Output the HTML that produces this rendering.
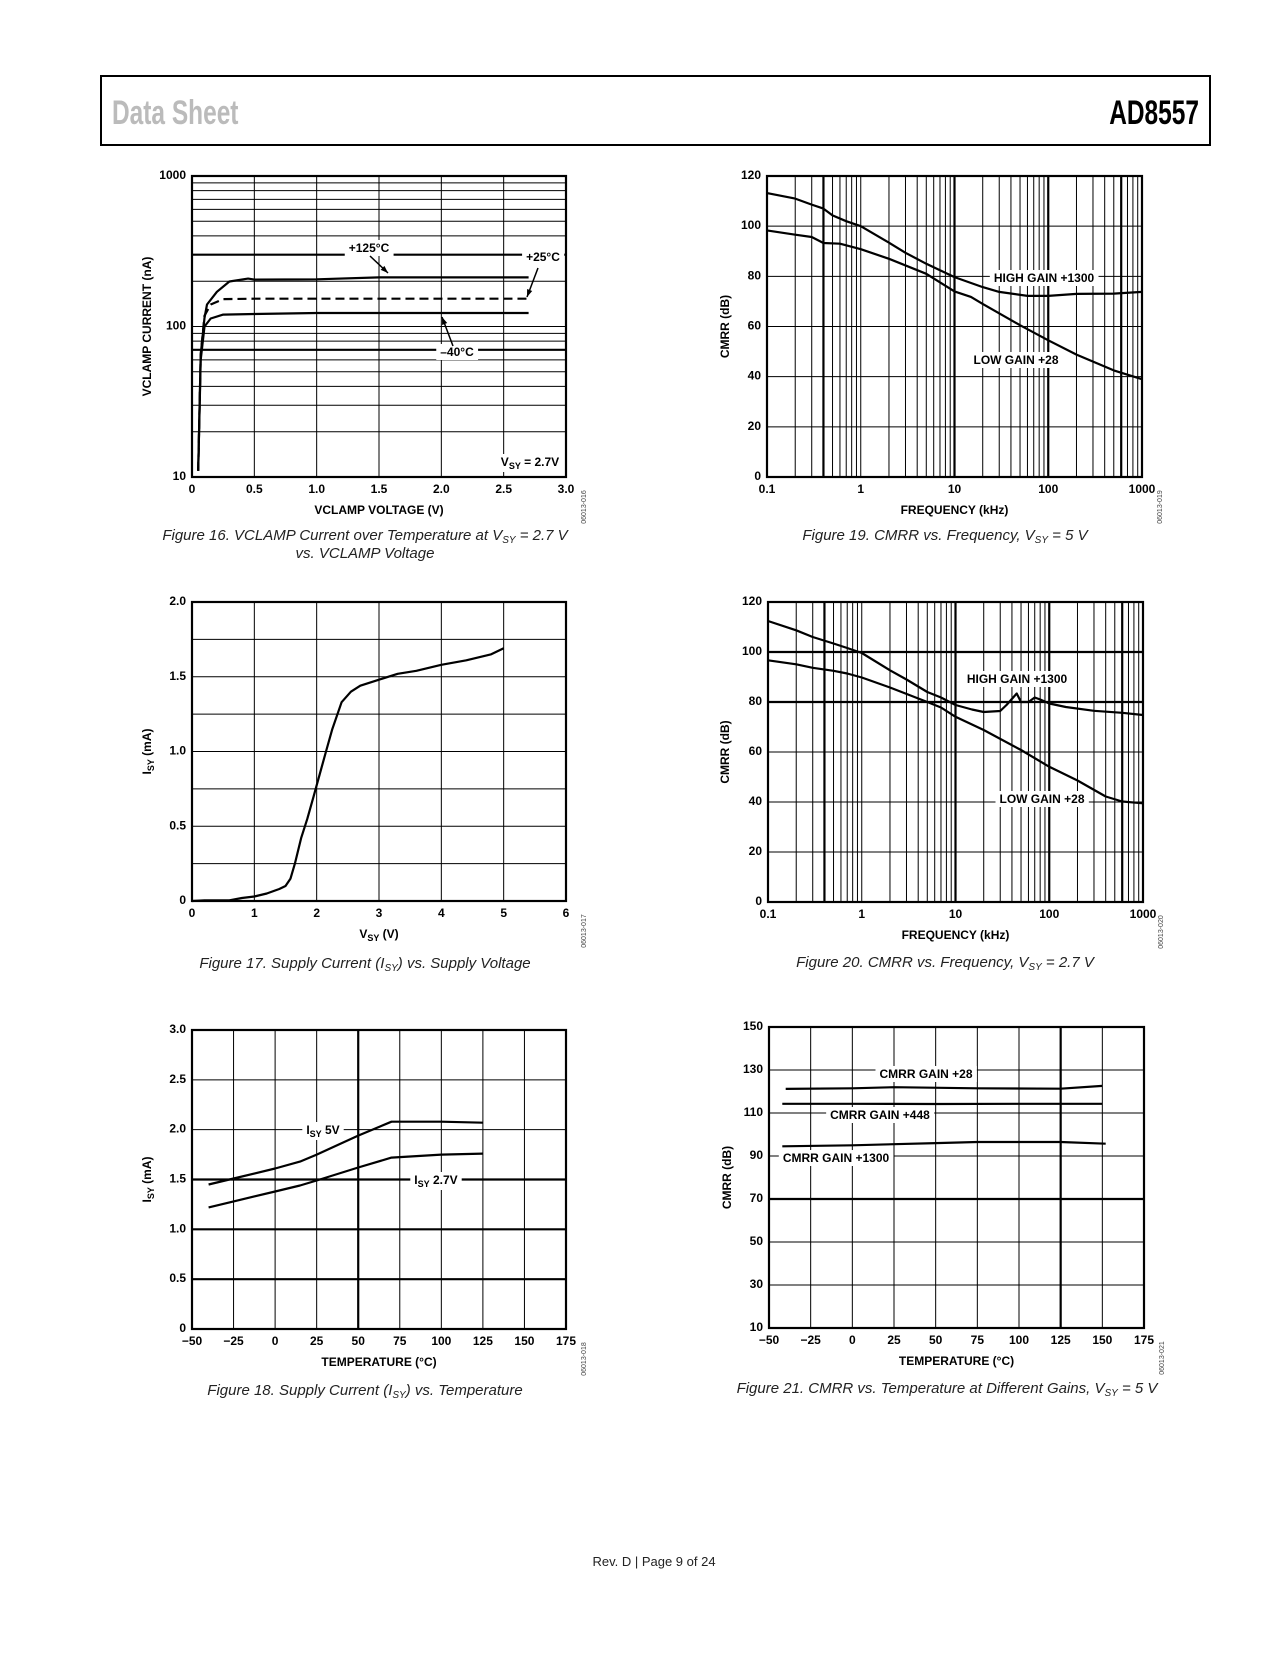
<!DOCTYPE html>
<html><head><meta charset="utf-8">
<style>
html,body{margin:0;padding:0;background:#fff;}
body{width:1275px;height:1650px;overflow:hidden;font-family:"Liberation Sans",sans-serif;}
svg text{font-family:"Liberation Sans",sans-serif;}
</style></head>
<body>
<svg id="page" width="1275" height="1650" viewBox="0 0 1275 1650" xmlns="http://www.w3.org/2000/svg">
<rect x="101" y="76" width="1109" height="69" fill="none" stroke="#000" stroke-width="2"/>
<text x="112" y="124" font-size="34" fill="#bbb" font-weight="bold" transform="translate(112 0) scale(0.72 1) translate(-112 0)">Data Sheet</text>
<text x="1199" y="124" font-size="34" fill="#000" font-weight="bold" text-anchor="end" transform="translate(1199 0) scale(0.72 1) translate(-1199 0)">AD8557</text>
<text x="654" y="1566" font-size="13" text-anchor="middle" fill="#222">Rev. D | Page 9 of 24</text>
<g id="charts"></g>
</svg>
<script>
// ---- Figure 16 data (VCLAMP current, nA vs V) ----
const f16_t125_x=[0.05,0.07,0.1,0.12,0.2,0.3,0.45,0.5,1.0,1.5,2.7];
const f16_t125_y=[11,65,114,140,170,199,208,205,206,212,212];
const f16_t25_x=[0.05,0.07,0.1,0.15,0.25,0.5,1.0,2.7];
const f16_t25_y=[11,65,118,140,152,153,153,153];
const f16_tm40_x=[0.05,0.07,0.1,0.15,0.25,0.5,1.0,2.7];
const f16_tm40_y=[11,60,100,113,120,121,123,123];
const f16_xticks=[0,0.5,1.0,1.5,2.0,2.5,3.0];
const f16_xtickLabels=["0","0.5","1.0","1.5","2.0","2.5","3.0"];
const f16_yticks=[10,100,1000];
const f16_ytickLabels=["10","100","1000"];
// ---- Figure 19 data (CMRR vs freq, 5V) ----
const f19_high_x=[0.1,0.2,0.3,0.4,0.5,0.7,1,2,3,5,10,20,30,60,100,200,500,1000];
const f19_high_y=[113.2,111,108.6,107,104.3,102,100,93.4,89.4,85,79.7,75.7,73.8,72.2,72.2,73,73.1,73.8];
const f19_low_x=[0.1,0.2,0.3,0.4,0.6,1,2,5,10,15,20,50,100,200,500,1000];
const f19_low_y=[98.3,96.6,95.7,93.3,93,90.8,87,81,74,71.8,69,60.5,54.5,48.8,42.5,39];
// ---- Figure 20 data (CMRR vs freq, 2.7V) ----
const f20_high_x=[0.1,0.2,0.3,0.5,0.7,1,2,3,5,7,10,15,20,30,35,45,50,60,70,80,100,150,300,600,1000];
const f20_high_y=[112.4,108.7,106,103.4,101.6,99.6,92.7,89,84,81.8,78.8,77,76,76.4,78.8,83.4,80,80,81.8,81,79.4,78,76.5,75.7,74.8];
const f20_low_x=[0.1,0.2,0.3,0.5,0.7,1,2,5,7,10,20,50,100,200,400,600,1000];
const f20_low_y=[96.7,95.1,93.7,92.5,91.4,89.8,85.8,80,77.8,74.1,68.8,60.8,54.1,48.6,42.2,40.2,39.5];
const freqTicks=[0.1,1,10,100,1000];
const freqTickLabels=["0.1","1","10","100","1000"];
const cmrrTicks=[0,20,40,60,80,100,120];
const cmrrTickLabels=["0","20","40","60","80","100","120"];
// ---- Figure 17 data (Isy vs Vsy) ----
const f17_x=[0,0.2,0.6,0.8,1.0,1.2,1.4,1.5,1.58,1.65,1.75,1.85,1.95,2.05,2.15,2.25,2.4,2.55,2.7,3.0,3.3,3.6,4.0,4.4,4.8,5.0];
const f17_y=[0,0.005,0.005,0.02,0.03,0.05,0.08,0.1,0.15,0.25,0.42,0.55,0.7,0.85,1.0,1.15,1.33,1.4,1.44,1.48,1.52,1.54,1.58,1.61,1.65,1.69];
const f17_xticks=[0,1,2,3,4,5,6];
const f17_yticks=[0,0.5,1.0,1.5,2.0];
const f17_ytickLabels=["0","0.5","1.0","1.5","2.0"];
// ---- Figure 18 data (Isy vs temperature) ----
const f18_temp=[-40,-25,0,15,25,50,70,100,125];
const f18_5v=[1.45,1.51,1.61,1.68,1.75,1.94,2.08,2.08,2.07];
const f18_27v=[1.22,1.28,1.38,1.44,1.49,1.62,1.72,1.75,1.76];
const tempTicks=[-50,-25,0,25,50,75,100,125,150,175];
const tempTickLabels=["\u221250","\u221225","0","25","50","75","100","125","150","175"];
const f18_yticks=[0,0.5,1.0,1.5,2.0,2.5,3.0];
const f18_ytickLabels=["0","0.5","1.0","1.5","2.0","2.5","3.0"];
// ---- Figure 21 data (CMRR vs temperature) ----
const f21_g28_x=[-40,0,25,75,125,150];
const f21_g28_y=[121.2,121.5,122,121.5,121.3,122.6];
const f21_g448_x=[-42,0,50,100,150];
const f21_g448_y=[114.3,114.3,114.2,114.3,114.3];
const f21_g1300_x=[-42,0,50,75,125,152];
const f21_g1300_y=[94.5,95,96,96.5,96.5,95.7];
const f21_yticks=[10,30,50,70,90,110,130,150];

const NS="http://www.w3.org/2000/svg";
const root=document.getElementById('charts');
function mk(tag,attrs,parent){const e=document.createElementNS(NS,tag);for(const k in attrs)e.setAttribute(k,attrs[k]);(parent||root).appendChild(e);return e;}
function logMinors(a,b){const r=[];for(let d=Math.log10(a);d<Math.log10(b);d++){for(let m=2;m<=9;m++)r.push(m*Math.pow(10,d));}return r;}

function makeChart(c){
  const g=mk('g',{});
  
  
  const L=v=>Math.log10(v);
  c.sx=v=>c.xlog? c.x0+(L(v)-L(c.xmin))/(L(c.xmax)-L(c.xmin))*(c.x1-c.x0) : c.x0+(v-c.xmin)/(c.xmax-c.xmin)*(c.x1-c.x0);
  c.sy=v=>c.ylog? c.y1-(L(v)-L(c.ymin))/(L(c.ymax)-L(c.ymin))*(c.y1-c.y0) : c.y1-(v-c.ymin)/(c.ymax-c.ymin)*(c.y1-c.y0);
  const grid=mk('g',{},g);
  
  
  (c.xgrid||[]).forEach(v=>{const x=c.sx(v);const ln=mk('line',{x1:x,x2:x,y1:c.y0,y2:c.y1,stroke:'#000','stroke-width':(c.xthick||[]).some(t=>Math.abs(t-v)<1e-9)?2.2:1},grid);});
  (c.ygrid||[]).forEach(v=>{const y=c.sy(v);const ln=mk('line',{x1:c.x0,x2:c.x1,y1:y,y2:y,stroke:'#000','stroke-width':(c.ythick||[]).some(t=>Math.abs(t-v)<1e-9)?2.2:1},grid);});
  const fr=mk('rect',{x:c.x0,y:c.y0,width:c.x1-c.x0,height:c.y1-c.y0,fill:'none',stroke:'#000','stroke-width':2.2},g);
  
  
  c.xticks.forEach((v,i)=>{const t=mk('text',{x:c.sx(v),y:c.y1+16,'font-size':12,'font-weight':'bold','text-anchor':'middle'},g);t.textContent=c.xlabels[i];});
  c.yticks.forEach((v,i)=>{const t=mk('text',{x:c.x0-6,y:c.sy(v)+3,'font-size':12,'font-weight':'bold','text-anchor':'end'},g);t.textContent=c.ylabels[i];});
  const xt=mk('text',{x:(c.x0+c.x1)/2,y:c.y1+37,'font-size':12,'font-weight':'bold','text-anchor':'middle'},g);
  
  
  xt.innerHTML=c.xtitle;
  const yc=(c.y0+c.y1)/2;
  const yt=mk('text',{x:c.ytx,y:yc,'font-size':12,'font-weight':'bold','text-anchor':'middle',transform:`rotate(-90 ${c.ytx} ${yc})`},g);
  
  
  yt.innerHTML=c.ytitle;
  const idc=(c.y1+30);
  const id=mk('text',{x:c.x1+20,y:idc,'font-size':7,fill:'#444','text-anchor':'middle',transform:`rotate(-90 ${c.x1+20} ${idc})`},g);
  
  
  id.textContent=c.figid;
  c.caption.forEach((ln,i)=>{const t=mk('text',{x:c.capx,y:c.capy+i*18,'font-size':15,'font-style':'italic','text-anchor':'middle',fill:'#222'},g);t.innerHTML=ln;});
  c.g=g;
  return c;
}
function series(c,xs,ys,name,dash){
  const d=xs.map((x,i)=>(i?'L':'M')+c.sx(x).toFixed(1)+','+c.sy(ys[i]).toFixed(1)).join('');
  const p=mk('path',{d:d,fill:'none',stroke:'#000','stroke-width':2.2,'stroke-linejoin':'round'},c.g);
  if(dash)p.setAttribute('stroke-dasharray',dash);
  
  
}
function label(c,x,y,html,name){
  const t=mk('text',{x:x,y:y,'font-size':12,'font-weight':'bold','text-anchor':'middle'},c.g);
  t.innerHTML=html;
  const b=t.getBBox();
  const r=mk('rect',{x:b.x-4,y:b.y-1,width:b.width+8,height:b.height+2,fill:'#fff'},c.g);
  
  
  c.g.appendChild(t);
  
  
}
function arrow(c,x1,y1,x2,y2,name){
  const a=mk('line',{x1:x1,y1:y1,x2:x2,y2:y2,stroke:'#000','stroke-width':1.5},c.g);
  
  
  const ang=Math.atan2(y2-y1,x2-x1),s=8;
  const pts=[[x2,y2],[x2-s*Math.cos(ang-0.35),y2-s*Math.sin(ang-0.35)],[x2-s*Math.cos(ang+0.35),y2-s*Math.sin(ang+0.35)]];
  const h=mk('polygon',{points:pts.map(p=>p.join(',')).join(' '),fill:'#000'},c.g);
  
  
}
const SUB='<tspan font-size="9" dy="3">SY</tspan><tspan dy="-3">';

// Figure 16
const c16=makeChart({name:'figure-16-chart',x0:192,x1:566,y0:176,y1:477,xmin:0,xmax:3,ymin:10,ymax:1000,ylog:true,
 xgrid:[0.5,1,1.5,2,2.5],ygrid:[100].concat(logMinors(10,1000)),ythick:[300,70],
 xticks:f16_xticks,xlabels:f16_xtickLabels,yticks:f16_yticks,ylabels:f16_ytickLabels,
 xtitle:'VCLAMP VOLTAGE (V)',ytitle:'VCLAMP CURRENT (nA)',ytx:151,figid:'06013-016',
 caption:['Figure 16. VCLAMP Current over Temperature at V<tspan font-size="10" dy="3">SY</tspan><tspan dy="-3"> = 2.7 V</tspan>','vs. VCLAMP Voltage'],capx:365,capy:540});
series(c16,f16_t125_x,f16_t125_y,'series-125c');
series(c16,f16_t25_x,f16_t25_y,'series-25c','9,5');
series(c16,f16_tm40_x,f16_tm40_y,'series-minus40c');
label(c16,369,252,'+125°C','label-125c');
label(c16,543,261,'+25°C','label-25c');
label(c16,457,356,'\u201340°C','label-minus40c');
label(c16,530,466,'V<tspan font-size="9" dy="3">SY</tspan><tspan dy="-3"> = 2.7V</tspan>','label-vsy');
arrow(c16,370,256,388,273,'arrow-125c');
arrow(c16,538,268,527,297,'arrow-25c');
arrow(c16,453,346,442,317,'arrow-minus40c');

// Figure 19
const c19=makeChart({name:'figure-19-chart',x0:767,x1:1142,y0:176,y1:477,xmin:0.1,xmax:1000,xlog:true,ymin:0,ymax:120,
 xgrid:[1,10,100].concat(logMinors(0.1,1000)),xthick:[0.4,10,100,600],ygrid:[20,40,60,80,100],
 xticks:freqTicks,xlabels:freqTickLabels,yticks:cmrrTicks,ylabels:cmrrTickLabels,
 xtitle:'FREQUENCY (kHz)',ytitle:'CMRR (dB)',ytx:729,figid:'06013-019',
 caption:['Figure 19. CMRR vs. Frequency, V<tspan font-size="10" dy="3">SY</tspan><tspan dy="-3"> = 5 V</tspan>'],capx:945,capy:540});
series(c19,f19_high_x,f19_high_y,'series-high-gain');
series(c19,f19_low_x,f19_low_y,'series-low-gain');
label(c19,1044,282,'HIGH GAIN +1300','label-high-gain');
label(c19,1016,364,'LOW GAIN +28','label-low-gain');

// Figure 17
const c17=makeChart({name:'figure-17-chart',x0:192,x1:566,y0:602,y1:901,xmin:0,xmax:6,ymin:0,ymax:2,
 xgrid:[1,2,3,4,5],ygrid:[0.25,0.5,0.75,1,1.25,1.5,1.75],
 xticks:f17_xticks,xlabels:f17_xticks.map(String),yticks:f17_yticks,ylabels:f17_ytickLabels,
 xtitle:'V'+SUB+' (V)</tspan>',ytitle:'I'+SUB+' (mA)</tspan>',ytx:151,figid:'06013-017',
 caption:['Figure 17. Supply Current (I<tspan font-size="10" dy="3">SY</tspan><tspan dy="-3">) vs. Supply Voltage</tspan>'],capx:365,capy:968});
series(c17,f17_x,f17_y,'series-isy');

// Figure 20
const c20=makeChart({name:'figure-20-chart',x0:768,x1:1143,y0:602,y1:902,xmin:0.1,xmax:1000,xlog:true,ymin:0,ymax:120,
 xgrid:[1,10,100].concat(logMinors(0.1,1000)),xthick:[0.4,10,100,600],ygrid:[20,40,60,80,100],ythick:[80,100],
 xticks:freqTicks,xlabels:freqTickLabels,yticks:cmrrTicks,ylabels:cmrrTickLabels,
 xtitle:'FREQUENCY (kHz)',ytitle:'CMRR (dB)',ytx:729,figid:'06013-020',
 caption:['Figure 20. CMRR vs. Frequency, V<tspan font-size="10" dy="3">SY</tspan><tspan dy="-3"> = 2.7 V</tspan>'],capx:945,capy:967});
series(c20,f20_high_x,f20_high_y,'series-high-gain');
series(c20,f20_low_x,f20_low_y,'series-low-gain');
label(c20,1017,683,'HIGH GAIN +1300','label-high-gain');
label(c20,1042,803,'LOW GAIN +28','label-low-gain');

// Figure 18
const c18=makeChart({name:'figure-18-chart',x0:192,x1:566,y0:1030,y1:1329,xmin:-50,xmax:175,ymin:0,ymax:3,
 xgrid:[-25,0,25,50,75,100,125,150],xthick:[50],ygrid:[0.5,1,1.5,2,2.5],ythick:[0.5,1,1.5],
 xticks:tempTicks,xlabels:tempTickLabels,yticks:f18_yticks,ylabels:f18_ytickLabels,
 xtitle:'TEMPERATURE (°C)',ytitle:'I'+SUB+' (mA)</tspan>',ytx:151,figid:'06013-018',
 caption:['Figure 18. Supply Current (I<tspan font-size="10" dy="3">SY</tspan><tspan dy="-3">) vs. Temperature</tspan>'],capx:365,capy:1395});
series(c18,f18_temp,f18_5v,'series-isy-5v');
series(c18,f18_temp,f18_27v,'series-isy-2-7v');
label(c18,323,1134,'I<tspan font-size="9" dy="3">SY</tspan><tspan dy="-3"> 5V</tspan>','label-isy-5v');
label(c18,436,1184,'I<tspan font-size="9" dy="3">SY</tspan><tspan dy="-3"> 2.7V</tspan>','label-isy-2-7v');

// Figure 21
const c21=makeChart({name:'figure-21-chart',x0:769,x1:1144,y0:1027,y1:1328,xmin:-50,xmax:175,ymin:10,ymax:150,
 xgrid:[-25,0,25,50,75,100,125,150],xthick:[125],ygrid:[30,50,70,90,110,130],ythick:[70],
 xticks:tempTicks,xlabels:tempTickLabels,yticks:f21_yticks,ylabels:f21_yticks.map(String),
 xtitle:'TEMPERATURE (°C)',ytitle:'CMRR (dB)',ytx:731,figid:'06013-021',
 caption:['Figure 21. CMRR vs. Temperature at Different Gains, V<tspan font-size="10" dy="3">SY</tspan><tspan dy="-3"> = 5 V</tspan>'],capx:947,capy:1393});
series(c21,f21_g28_x,f21_g28_y,'series-gain-28');
series(c21,f21_g448_x,f21_g448_y,'series-gain-448');
series(c21,f21_g1300_x,f21_g1300_y,'series-gain-1300');
label(c21,926,1078,'CMRR GAIN +28','label-gain-28');
label(c21,880,1119,'CMRR GAIN +448','label-gain-448');
label(c21,836,1162,'CMRR GAIN +1300','label-gain-1300');
</script>
</body></html>
